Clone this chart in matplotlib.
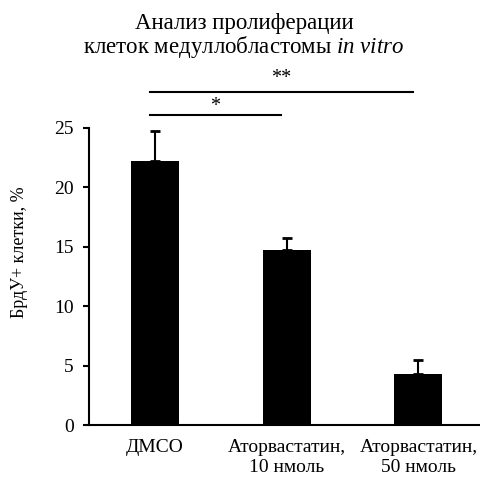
import matplotlib
matplotlib.use("Agg")
import matplotlib.pyplot as plt
import numpy as np

categories = ["ДМСО", "Аторвастатин,\n10 нмоль", "Аторвастатин,\n50 нмоль"]
values = [22.25, 14.75, 4.3]
errors = [2.5, 1.0, 1.2]
yticks = [0, 5, 10, 15, 20, 25]
sig_labels = ["*", "**"]
sig_ends = [1, 2]

plt.rcParams['font.family'] = ['Liberation Serif', 'DejaVu Serif']
plt.rcParams['mathtext.fontset'] = 'custom'
plt.rcParams['mathtext.rm'] = 'Liberation Serif'
plt.rcParams['mathtext.it'] = 'Liberation Serif:italic'

fig = plt.figure(figsize=(4.8, 4.78), dpi=100)
ax = fig.add_axes([89/480, 1-425/478, 390/480, 297/478])

x = np.arange(len(categories))
ax.bar(x, values, width=0.365, color='black', zorder=2)
ax.errorbar(x, values, yerr=[np.zeros(len(errors)), errors], fmt='none',
            ecolor='black', elinewidth=1.5, capsize=3.5, capthick=2, zorder=1)

ax.set_xlim(-0.5, 2.46)
ax.set_ylim(0, 25)
ax.set_yticks(yticks)
ax.set_xticks(x)
ax.set_xticklabels(categories, fontsize=14, linespacing=1.25, va='top')
ax.tick_params(axis='x', length=0, pad=10)
ax.tick_params(axis='y', length=4, width=1.5, pad=7, labelsize=14, direction='out')
for s in ['top', 'right']:
    ax.spines[s].set_visible(False)
for s in ['left', 'bottom']:
    ax.spines[s].set_linewidth(1.5)

# significance lines
sig_y = [26.1, 28.05]
sig_text_y = [26.85, 29.2]
for lab, end, yy, ty in zip(sig_labels, sig_ends, sig_y, sig_text_y):
    ax.plot([-0.04, end - 0.04], [yy, yy], color='black', lw=1.5, clip_on=False)
    ax.text((end - 0.08) / 2, ty, lab, ha='center', va='center',
            fontsize=14.5, clip_on=False)

fig.text(20/480, 1-252/478, "БрдУ+ клетки, %", rotation=90, ha='center', va='center',
         fontsize=13)

fig.text(244/480, 1-23/478, "Анализ пролиферации", ha='center', va='center', fontsize=16.5)
fig.text(244/480, 1-47/478, "клеток медуллобластомы $\\mathit{in\\ vitro}$", ha='center',
         va='center', fontsize=16.5)

fig.savefig("out.png", dpi=100)
